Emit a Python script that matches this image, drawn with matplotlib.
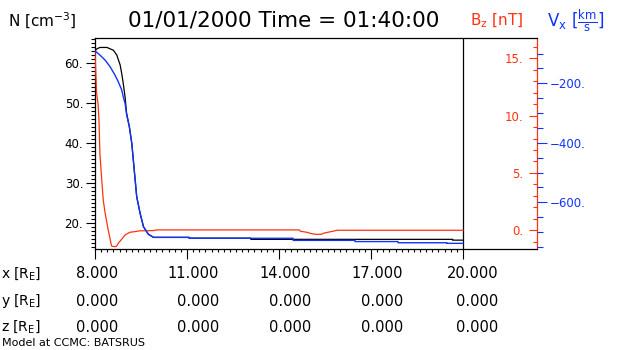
import matplotlib
matplotlib.use('Agg')
import matplotlib.pyplot as plt
import matplotlib.transforms as mtrans
from matplotlib.ticker import FixedLocator

# ---------------- data ----------------
x_n = [8.0, 8.05, 8.16, 8.39, 8.6, 8.71, 8.82, 8.87, 8.92, 8.98, 9.03, 9.12, 9.2, 9.25, 9.3,
       9.36, 9.47, 9.58, 9.74, 9.91, 11.07, 11.07, 13.08, 13.08, 19.66, 19.66, 20.0]
n_dens = [63.1, 63.6, 64.0, 64.0, 63.3, 62.1, 59.6, 57.5, 55.0, 51.6, 47.5, 44.1, 39.9, 35.7, 31.5,
          26.5, 22.4, 19.0, 17.1, 16.3, 16.3, 16.1, 16.1, 15.8, 15.8, 15.6, 15.6]

x_v = [8.0, 8.16, 8.33, 8.49, 8.65, 8.76, 8.87, 8.92, 8.98, 9.03, 9.12, 9.2, 9.25, 9.3, 9.36,
       9.47, 9.58, 9.74, 9.91, 11.07, 11.07, 14.46, 14.46, 16.48, 16.48, 17.88, 17.88,
       19.47, 19.47, 20.0]
vx = [-91, -105, -122, -144, -172, -195, -222, -245, -267, -305, -346, -402, -458, -514, -581,
      -637, -682, -708, -718, -718, -721, -721, -728, -728, -732, -732, -736,
      -736, -738, -738]

x_b = [8.0, 8.05, 8.10, 8.13, 8.16, 8.22, 8.27, 8.33, 8.43, 8.54, 8.62, 8.70, 8.76, 8.87, 8.98,
       9.14, 9.30, 9.45, 9.9, 10.0, 14.66, 14.7, 14.9, 15.07, 15.2, 15.39, 15.45, 15.6,
       15.75, 15.9, 20.0]
bz = [15.6, 12.0, 11.0, 9.6, 6.7, 4.4, 2.6, 1.5, 0.03, -1.37, -1.43, -1.40, -1.13, -0.78, -0.41,
      -0.17, -0.12, -0.05, -0.03, 0.03, 0.03, -0.09, -0.17, -0.3, -0.35, -0.35, -0.26, -0.17,
      -0.09, 0.0, 0.0]

x_major = [8, 11, 14, 17, 20]
n_major = [20, 30, 40, 50, 60]
bz_major = [0, 5, 10, 15]
vx_major = [-200, -400, -600]
x_row = ['8.000', '11.000', '14.000', '17.000', '20.000']
y_row = ['0.000', '0.000', '0.000', '0.000', '0.000']
z_row = ['0.000', '0.000', '0.000', '0.000', '0.000']

RED = '#ff3311'
BLUE = '#1133ff'

W, H = 630, 350
fig = plt.figure(figsize=(6.3, 3.5), dpi=100)
plt.rcParams['font.family'] = ['DejaVu Sans']

L, R, T, B = 95, 537, 38.3, 248.5
ax = fig.add_axes([L / W, 1 - B / H, (R - L) / W, (B - T) / H])
px_per_x = (463 - 95) / 12.0
ax.set_xlim(8, 8 + (R - L) / px_per_x)
ax.set_ylim(13.5, 66.3)

for s in ['left', 'top', 'bottom']:
    ax.spines[s].set_color('black')
    ax.spines[s].set_linewidth(0.9)
ax.spines['right'].set_color(RED)
ax.spines['right'].set_linewidth(0.9)
ax.axvline(20, color='black', lw=0.9, zorder=5)

ax.xaxis.set_major_locator(FixedLocator(x_major))
ax.xaxis.set_minor_locator(FixedLocator([8 + 0.2 * i for i in range(61)]))
ax.tick_params(axis='x', which='major', direction='out', length=7.5, width=0.8,
               labelbottom=False)
ax.tick_params(axis='x', which='minor', direction='out', length=2.5, width=0.8)

ax.yaxis.set_major_locator(FixedLocator(n_major))
ax.yaxis.set_minor_locator(FixedLocator(list(range(14, 67))))
ax.set_yticklabels([f'{v}.' for v in n_major])
ax.tick_params(axis='y', which='major', direction='out', length=6.5, width=0.8,
               labelsize=8.5, pad=2)
ax.tick_params(axis='y', which='minor', direction='out', length=3.2, width=0.8)

ax.plot(x_n, n_dens, color='black', lw=0.9)

# Bz axis (red)
axb = ax.twinx()
axb.set_ylim(-1.59, 16.74)
for s in axb.spines.values():
    s.set_visible(False)
axb.yaxis.set_major_locator(FixedLocator(bz_major))
axb.yaxis.set_minor_locator(FixedLocator(list(range(-1, 17))))
axb.set_yticklabels([f'{v}.' for v in bz_major], ha='right')
axb.tick_params(axis='y', which='major', direction='in', length=5.8, width=0.8,
                colors=RED, labelsize=8.5, pad=-10)
axb.tick_params(axis='y', which='minor', direction='in', length=2.9, width=0.8, colors=RED)
axb.plot(x_b, bz, color=RED, lw=0.9)

# Vx axis (blue)
axv = ax.twinx()
axv.set_ylim(-755.3, -48.7)
for s in axv.spines.values():
    s.set_visible(False)
axv.yaxis.set_major_locator(FixedLocator(vx_major))
axv.yaxis.set_minor_locator(FixedLocator(list(range(-750, -99, 50))))
axv.set_yticklabels([f'\u2212{abs(v)}.' for v in vx_major])
axv.tick_params(axis='y', which='major', direction='out', length=7.5, width=0.8,
                colors=BLUE, labelsize=8.5, pad=2)
axv.tick_params(axis='y', which='minor', direction='out', length=4.3, width=0.8, colors=BLUE)
axv.plot(x_v, vx, color=BLUE, lw=1.0)

# titles
ty = 1 - 21 / H
fig.text(8 / W, ty, r'N [cm$^{-3}$]', fontsize=11, ha='left', va='center')
fig.text(283.5 / W, ty, '01/01/2000 Time = 01:40:00', fontsize=15.5, ha='center',
         va='center')
fig.text(470 / W, ty, r'B$_\mathregular{z}$ [nT]', fontsize=11, ha='left', va='center', color=RED)
fig.text(547 / W, ty, r'V$_\mathregular{x}$ [$\frac{\mathrm{km}}{\mathrm{s}}$]', fontsize=12,
         ha='left', va='center', color=BLUE)

# table below axis
offsets_px = [23, 32, 32, 32, 35]
rows = [('x', x_row, 273.5), ('y', y_row, 301), ('z', z_row, 327)]
for name, vals, ypx in rows:
    fig.text(1 / W, 1 - ypx / H, name + r' [R$_\mathregular{E}$]', fontsize=10,
             ha='left', va='center')
    for xv, val, off in zip(x_major, vals, offsets_px):
        tr = mtrans.blended_transform_factory(ax.transData, fig.transFigure) + \
            mtrans.ScaledTranslation(off / 100, 0, fig.dpi_scale_trans)
        fig.text(xv, 1 - ypx / H, val, transform=tr, fontsize=10.5, ha='right', va='center')

fig.text(2 / W, 1 - 342.5 / H, 'Model at CCMC: BATSRUS', fontsize=8, ha='left', va='center')

fig.savefig('out.png', dpi=100)
